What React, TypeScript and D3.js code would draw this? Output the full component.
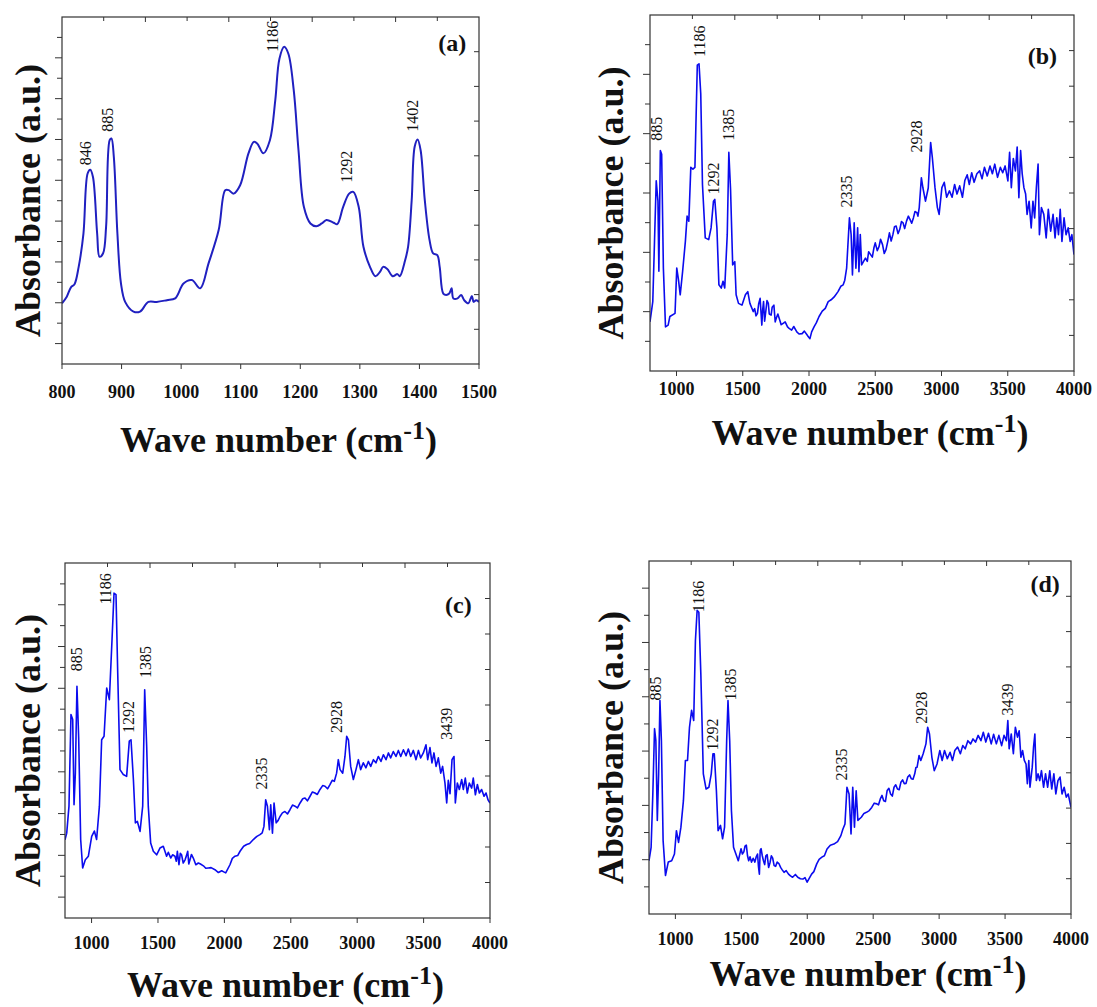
import React from "react";
import * as d3 from "d3";

type Pt = [number, number];
type Peak = { label: string; wn: number; y: number };

// ---------- Spectrum (a): 800-1500 cm-1 ----------
const specA: Pt[] = [
  [800, 17.5], [808, 19.4], [815, 22.1], [821, 23.0], [828, 28.0], [836, 37.6], [843, 54.9], [847.5, 56.0],
  [852, 53.9], [859, 37.6], [863, 30.9], [869, 31.9], [874, 39.5], [880, 64.5], [883, 65.0], [887, 59.7],
  [893, 37.6], [899, 23.2], [906, 17.9], [920, 15.1], [931, 15.1], [945, 17.9], [959, 17.9], [976, 18.4],
  [990, 18.9], [1004, 23.2], [1018, 24.2], [1032, 21.8], [1046, 29.0], [1063, 38.6], [1074, 50.1], [1080, 50.1],
  [1088, 49.1], [1099, 51.5], [1113, 60.7], [1122, 64.0], [1128, 63.5], [1138, 60.7], [1149, 64.5], [1158, 76.0],
  [1165, 88.0], [1173, 91.4], [1180, 89.4], [1189, 78.9], [1197, 61.6], [1206, 45.3], [1217, 40.5], [1227, 39.7],
  [1236, 40.5], [1244, 41.5], [1256, 40.7], [1262, 40.3], [1272, 45.3], [1282, 49.1], [1289, 49.6], [1298, 45.3],
  [1306, 33.8], [1317, 28.0], [1326, 25.3], [1334, 26.6], [1339, 28.0], [1346, 27.4], [1355, 25.3], [1363, 25.9],
  [1367, 25.3], [1376, 29.9], [1381, 33.8], [1387, 47.2], [1392, 62.6], [1397, 64.7], [1402, 61.6], [1409, 47.2],
  [1417, 35.7], [1423, 31.9], [1430, 31.4], [1434, 28.0], [1440, 20.3], [1445, 19.9], [1450, 20.3], [1454, 21.8],
  [1457, 18.9], [1464, 18.9], [1470, 19.9], [1475, 18.4], [1482, 17.5], [1488, 19.6], [1491, 17.9], [1495, 18.4],
  [1500, 17.9],
];
const peaksA: Peak[] = [
  { label: "846", wn: 839, y: 57.3 },
  { label: "885", wn: 875.5, y: 66.9 },
  { label: "1186", wn: 1152.5, y: 89.9 },
  { label: "1292", wn: 1278, y: 52.2 },
  { label: "1402", wn: 1387.5, y: 66.9 },
];

// ---------- Spectrum (b) ----------
const specB: Pt[] = [
  [800, 13.8], [821, 19.5], [834, 36.4], [847, 53.4], [860, 47.7], [867, 28.0], [878, 61.9], [888, 60.9],
  [901, 28.9], [917, 12.4], [937, 12.9], [950, 15.3], [989, 16.2], [1002, 28.9], [1015, 25.6], [1028, 21.4],
  [1046, 27.9], [1067, 36.4], [1080, 43.5], [1093, 42.1], [1108, 57.2], [1124, 56.7], [1139, 57.2], [1157, 85.9],
  [1170, 86.3], [1183, 77.9], [1196, 52.4], [1217, 37.4], [1243, 36.9], [1261, 40.2], [1279, 47.7], [1289, 48.2],
  [1305, 40.2], [1320, 24.2], [1338, 23.3], [1351, 25.2], [1364, 23.3], [1383, 38.3], [1395, 61.4], [1408, 51.0],
  [1424, 29.8], [1440, 30.7], [1450, 21.4], [1468, 19.0], [1494, 18.5], [1520, 21.4], [1538, 22.3], [1554, 19.0],
  [1579, 16.7], [1590, 17.5], [1600, 15.5], [1611, 16.2], [1620, 18.8], [1631, 20.4], [1644, 12.9], [1650, 17.0],
  [1657, 19.5], [1665, 14.0], [1675, 17.1], [1683, 19.8], [1693, 19.0], [1700, 16.0], [1714, 15.7], [1722, 17.9],
  [1735, 18.5], [1745, 13.8], [1753, 14.8], [1765, 16.0], [1779, 14.3], [1790, 13.0], [1805, 13.4], [1820, 13.8],
  [1838, 12.4], [1850, 12.0], [1869, 11.5], [1885, 12.5], [1908, 11.0], [1925, 10.4], [1948, 10.5], [1965, 11.2],
  [1986, 10.1], [1995, 9.6], [2007, 9.1], [2020, 11.0], [2038, 12.4], [2055, 13.5], [2076, 15.3], [2100, 16.8],
  [2123, 17.6], [2145, 19.5], [2167, 20.0], [2190, 20.8], [2219, 22.3], [2240, 23.8], [2258, 24.2], [2270, 25.5],
  [2284, 28.9], [2305, 43.0], [2318, 38.3], [2328, 27.0], [2341, 41.6], [2354, 28.9], [2367, 40.2], [2377, 27.9],
  [2387, 38.3], [2397, 29.8], [2426, 31.7], [2440, 30.8], [2450, 33.5], [2465, 32.7], [2478, 32.0], [2490, 34.6],
  [2500, 36.0], [2515, 33.8], [2529, 35.0], [2540, 37.0], [2555, 35.5], [2568, 33.0], [2581, 34.1], [2595, 36.5],
  [2607, 38.8], [2620, 36.5], [2633, 38.3], [2645, 40.5], [2658, 40.7], [2672, 38.6], [2685, 39.8], [2698, 42.0],
  [2710, 41.6], [2722, 40.0], [2736, 42.1], [2750, 43.5], [2762, 42.6], [2775, 41.5], [2788, 43.0], [2800, 44.8],
  [2814, 44.5], [2822, 43.5], [2832, 45.9], [2848, 54.3], [2860, 51.4], [2879, 47.7], [2900, 51.4], [2918, 64.2],
  [2931, 59.9], [2951, 51.5], [2969, 45.9], [2982, 44.0], [3003, 51.5], [3021, 53.0], [3039, 48.8], [3060, 50.6],
  [3080, 48.8], [3099, 52.4], [3117, 49.7], [3137, 52.0], [3158, 48.8], [3176, 53.5], [3194, 55.1], [3210, 52.4],
  [3228, 55.7], [3246, 53.0], [3267, 55.4], [3288, 56.2], [3306, 54.0], [3324, 57.2], [3345, 54.8], [3366, 57.6],
  [3384, 55.4], [3402, 58.1], [3423, 54.4], [3444, 57.2], [3462, 55.7], [3480, 57.6], [3501, 53.4], [3514, 61.4],
  [3527, 51.5], [3542, 59.7], [3558, 56.2], [3571, 62.9], [3584, 48.7], [3597, 61.9], [3609, 55.4], [3622, 51.5],
  [3635, 49.7], [3646, 44.0], [3661, 47.7], [3677, 40.2], [3690, 47.7], [3703, 43.0], [3716, 51.5], [3729, 58.1],
  [3739, 38.3], [3754, 45.9], [3772, 44.0], [3790, 37.4], [3806, 45.4], [3824, 39.3], [3842, 44.0], [3857, 37.4],
  [3870, 43.0], [3883, 38.3], [3896, 45.4], [3909, 36.4], [3925, 43.0], [3940, 38.3], [3956, 40.2], [3971, 36.4],
  [3984, 38.3], [4000, 32.7],
];
const peaksB: Peak[] = [
  { label: "885", wn: 847, y: 64.7 },
  { label: "1186", wn: 1170, y: 88.2 },
  { label: "1292", wn: 1279, y: 49.6 },
  { label: "1385", wn: 1395, y: 64.7 },
  { label: "2335", wn: 2279, y: 45.9 },
  { label: "2928", wn: 2814, y: 61.4 },
];

// ---------- Spectrum (c) ----------
const specC: Pt[] = [
  [800, 22.0], [813, 23.9], [830, 31.5], [845, 57.3], [858, 55.9], [868, 31.9], [878, 40.8], [890, 65.3],
  [903, 50.7], [918, 22.1], [933, 14.1], [953, 16.4], [976, 17.4], [1001, 23.0], [1021, 24.5], [1038, 22.1],
  [1059, 31.5], [1076, 50.2], [1094, 51.2], [1114, 64.8], [1134, 61.5], [1154, 78.4], [1169, 91.5], [1184, 91.1],
  [1197, 69.0], [1214, 41.8], [1239, 40.4], [1264, 39.9], [1284, 49.8], [1297, 50.2], [1315, 39.0], [1330, 26.8],
  [1345, 27.2], [1365, 24.4], [1385, 31.5], [1400, 64.3], [1415, 48.4], [1427, 31.5], [1445, 21.1], [1465, 18.8],
  [1490, 17.8], [1515, 19.7], [1540, 20.2], [1565, 17.4], [1578, 18.5], [1596, 16.9], [1610, 17.8], [1628, 17.4],
  [1638, 16.0], [1646, 18.8], [1658, 15.0], [1668, 18.2], [1678, 17.8], [1690, 15.5], [1704, 16.4], [1714, 17.5],
  [1724, 18.8], [1732, 15.2], [1741, 16.4], [1752, 17.9], [1766, 16.9], [1785, 15.0], [1804, 15.5], [1820, 15.2],
  [1842, 14.7], [1860, 14.0], [1879, 14.1], [1900, 14.2], [1929, 13.6], [1955, 12.8], [1980, 13.3], [1995, 13.0],
  [2010, 12.7], [2042, 15.0], [2060, 16.8], [2080, 17.4], [2100, 17.6], [2118, 18.8], [2145, 20.2], [2168, 20.7],
  [2190, 21.0], [2218, 22.1], [2245, 23.0], [2268, 23.5], [2285, 24.0], [2298, 25.8], [2311, 33.3], [2324, 31.5],
  [2339, 24.9], [2349, 31.9], [2362, 23.9], [2374, 32.4], [2390, 26.8], [2405, 27.5], [2419, 28.6], [2437, 29.6],
  [2456, 30.0], [2475, 29.3], [2494, 30.5], [2513, 31.8], [2532, 31.5], [2550, 31.0], [2570, 32.4], [2590, 33.6],
  [2607, 33.8], [2625, 33.0], [2645, 34.3], [2663, 35.5], [2682, 35.2], [2700, 34.8], [2720, 36.2], [2740, 37.3],
  [2758, 37.1], [2777, 36.4], [2795, 37.6], [2812, 38.8], [2828, 38.5], [2845, 40.8], [2858, 44.6], [2871, 41.8],
  [2891, 40.8], [2908, 45.5], [2921, 51.2], [2934, 50.2], [2951, 42.7], [2971, 39.0], [2991, 41.8], [3009, 44.6],
  [3026, 41.8], [3046, 43.7], [3066, 42.3], [3084, 44.1], [3102, 42.7], [3122, 44.6], [3141, 43.7], [3159, 45.5],
  [3179, 44.1], [3197, 46.0], [3217, 44.6], [3235, 46.5], [3252, 45.1], [3272, 46.9], [3292, 45.5], [3310, 47.2],
  [3328, 45.5], [3348, 47.4], [3368, 45.7], [3385, 47.6], [3403, 45.5], [3423, 47.2], [3443, 44.6], [3461, 47.2],
  [3478, 45.1], [3498, 46.5], [3518, 48.8], [3531, 44.6], [3548, 48.0], [3563, 43.7], [3578, 46.5], [3594, 42.7],
  [3611, 45.1], [3629, 40.8], [3643, 42.7], [3661, 38.0], [3674, 32.4], [3686, 38.8], [3699, 35.0], [3714, 44.6],
  [3729, 45.5], [3739, 32.4], [3754, 38.0], [3769, 36.2], [3787, 39.0], [3799, 36.2], [3814, 39.4], [3829, 35.2],
  [3844, 38.0], [3862, 36.6], [3874, 39.4], [3890, 34.7], [3905, 37.6], [3920, 35.2], [3937, 36.2], [3955, 34.3],
  [3970, 35.2], [3985, 33.3], [4000, 32.4],
];
const peaksC: Peak[] = [
  { label: "885", wn: 888, y: 69.5 },
  { label: "1186", wn: 1101, y: 88.3 },
  { label: "1292", wn: 1277, y: 52.1 },
  { label: "1385", wn: 1407, y: 67.6 },
  { label: "2335", wn: 2281, y: 36.2 },
  { label: "2928", wn: 2845, y: 52.1 },
  { label: "3439", wn: 3672, y: 50.2 },
];

// ---------- Spectrum (d) ----------
const specD: Pt[] = [
  [800, 15.1], [816, 18.9], [829, 34.0], [842, 52.5], [852, 49.1], [863, 26.5], [873, 39.7], [883, 60.5],
  [894, 49.1], [907, 20.8], [925, 10.9], [946, 14.7], [972, 15.1], [993, 17.0], [1008, 23.6], [1024, 20.3],
  [1042, 24.6], [1061, 32.1], [1076, 43.5], [1092, 43.5], [1107, 52.9], [1123, 57.7], [1139, 54.8], [1152, 77.5],
  [1165, 86.0], [1178, 85.5], [1193, 68.1], [1212, 39.7], [1233, 35.4], [1254, 35.9], [1272, 39.7], [1285, 45.4],
  [1295, 45.4], [1311, 35.0], [1324, 23.6], [1342, 25.1], [1358, 21.3], [1373, 24.6], [1389, 49.1], [1399, 60.5],
  [1412, 49.1], [1425, 29.3], [1441, 18.9], [1459, 17.0], [1477, 15.1], [1498, 18.5], [1508, 17.0], [1519, 17.6],
  [1528, 19.2], [1538, 19.5], [1547, 16.5], [1556, 15.1], [1566, 16.2], [1577, 14.7], [1590, 15.8], [1603, 14.7],
  [1613, 16.2], [1623, 17.0], [1630, 13.5], [1637, 11.3], [1643, 18.0], [1650, 18.5], [1659, 16.5], [1668, 15.1],
  [1677, 14.0], [1686, 16.5], [1696, 16.8], [1707, 13.2], [1718, 14.6], [1728, 16.5], [1738, 15.8], [1749, 13.7],
  [1760, 13.5], [1772, 14.7], [1785, 14.3], [1798, 13.2], [1810, 12.5], [1824, 11.8], [1840, 12.3], [1858, 11.3],
  [1873, 10.8], [1889, 10.4], [1910, 11.2], [1928, 10.4], [1948, 10.0], [1967, 9.9], [1983, 10.3], [1999, 9.0],
  [2033, 11.3], [2050, 12.0], [2072, 14.2], [2090, 15.5], [2111, 16.1], [2130, 16.5], [2150, 18.4], [2175, 19.5],
  [2202, 19.8], [2230, 20.5], [2255, 22.2], [2270, 24.0], [2286, 25.5], [2301, 35.9], [2317, 34.0], [2332, 22.7],
  [2345, 35.9], [2358, 24.6], [2371, 34.9], [2384, 26.5], [2410, 27.4], [2430, 28.5], [2449, 28.8], [2470, 29.3],
  [2489, 30.2], [2508, 31.4], [2528, 31.2], [2540, 30.9], [2554, 32.6], [2567, 33.6], [2580, 32.1], [2593, 31.9],
  [2606, 35.0], [2619, 35.6], [2632, 34.0], [2645, 33.4], [2658, 35.9], [2671, 36.6], [2684, 35.4], [2697, 35.2],
  [2710, 37.3], [2723, 38.0], [2736, 36.9], [2749, 37.0], [2762, 38.8], [2776, 39.4], [2789, 38.3], [2802, 38.2],
  [2815, 39.7], [2824, 41.5], [2833, 41.6], [2848, 44.9], [2861, 43.5], [2879, 45.4], [2900, 48.2], [2913, 52.9],
  [2927, 51.0], [2945, 44.4], [2963, 40.6], [2984, 42.5], [3005, 46.3], [3023, 43.5], [3041, 46.3], [3062, 44.0],
  [3083, 45.8], [3101, 43.5], [3119, 46.3], [3140, 47.3], [3161, 45.4], [3179, 47.7], [3198, 46.8], [3218, 49.1],
  [3239, 48.2], [3257, 49.6], [3276, 48.7], [3296, 50.6], [3317, 49.1], [3335, 51.5], [3354, 48.7], [3374, 51.2],
  [3395, 48.2], [3413, 50.9], [3434, 48.2], [3453, 50.6], [3474, 47.7], [3492, 50.6], [3510, 49.1], [3521, 54.8],
  [3531, 46.8], [3547, 51.0], [3563, 45.4], [3578, 52.9], [3594, 50.1], [3607, 51.9], [3620, 44.4], [3633, 46.3],
  [3646, 43.5], [3659, 42.5], [3669, 36.9], [3680, 43.5], [3689, 35.9], [3706, 41.6], [3716, 47.3], [3726, 51.0],
  [3737, 37.8], [3750, 39.7], [3763, 37.8], [3776, 40.6], [3792, 35.9], [3807, 39.7], [3823, 35.9], [3839, 40.6],
  [3854, 35.4], [3870, 39.7], [3885, 34.0], [3901, 37.8], [3917, 38.8], [3932, 34.0], [3948, 35.9], [3964, 33.1],
  [3979, 34.0], [4000, 30.2],
];
const peaksD: Peak[] = [
  { label: "885", wn: 852, y: 60.5 },
  { label: "1186", wn: 1173, y: 85.5 },
  { label: "1292", wn: 1277, y: 46.3 },
  { label: "1385", wn: 1420, y: 60.5 },
  { label: "2335", wn: 2259, y: 37.8 },
  { label: "2928", wn: 2867, y: 53.9 },
  { label: "3439", wn: 3518, y: 56.2 },
];

const ticksNarrow = [800, 900, 1000, 1100, 1200, 1300, 1400, 1500];
const ticksWide = [1000, 1500, 2000, 2500, 3000, 3500, 4000];

const SERIF = "'Liberation Serif', 'Times New Roman', serif";

type PanelCfg = {
  key: string;
  letter: string;
  data: Pt[];
  peaks: Peak[];
  domain: [number, number];
  xTicks: number[];
  box: { l: number; r: number; t: number; b: number };
  leftDiv: number;
  leftMajorOdd: boolean;
  letterPos: [number, number];
  color: string;
  lw: number;
  smooth: boolean;
  tickLabelY: number;
  xlabelY: number;
  ylabelX: number;
};

const panels: PanelCfg[] = [
  {
    key: "a", letter: "(a)", data: specA, peaks: peaksA, domain: [800, 1500], xTicks: ticksNarrow,
    box: { l: 62, r: 479, t: 17, b: 364 }, leftDiv: 17, leftMajorOdd: false, letterPos: [1455, 92.5],
    color: "#2020c0", lw: 2, smooth: true, tickLabelY: 392, xlabelY: 452, ylabelX: 28,
  },
  {
    key: "b", letter: "(b)", data: specB, peaks: peaksB, domain: [800, 4000], xTicks: ticksWide,
    box: { l: 650, r: 1074, t: 15, b: 371 }, leftDiv: 12, leftMajorOdd: false, letterPos: [3762, 88.5],
    color: "#0b0bee", lw: 1.6, smooth: false, tickLabelY: 389, xlabelY: 445, ylabelX: 611,
  },
  {
    key: "c", letter: "(c)", data: specC, peaks: peaksC, domain: [800, 4000], xTicks: ticksWide,
    box: { l: 65, r: 490, t: 563, b: 918 }, leftDiv: 17, leftMajorOdd: false, letterPos: [3762, 88.3],
    color: "#0b0bee", lw: 1.6, smooth: false, tickLabelY: 943, xlabelY: 997, ylabelX: 28,
  },
  {
    key: "d", letter: "(d)", data: specD, peaks: peaksD, domain: [800, 4000], xTicks: ticksWide,
    box: { l: 649, r: 1071, t: 561, b: 914 }, leftDiv: 13, leftMajorOdd: true, letterPos: [3804, 93.6],
    color: "#0b0bee", lw: 1.6, smooth: false, tickLabelY: 939, xlabelY: 986, ylabelX: 611,
  },
];

function Panel({ p }: { p: PanelCfg }) {
  const { l, r, t, b } = p.box;
  const x = d3.scaleLinear().domain(p.domain).range([l, r]);
  const y = d3.scaleLinear().domain([0, 100]).range([b, t]);
  const line = d3
    .line<Pt>()
    .x((d) => x(d[0]))
    .y((d) => y(d[1]))
    .curve(p.smooth ? d3.curveCatmullRom.alpha(0.5) : d3.curveLinear);
  const sorted = [...p.data].sort((a, c) => a[0] - c[0]);
  const h = b - t;
  const w = r - l;
  const axisColor = "#333";

  const leftTicks = d3.range(1, p.leftDiv).map((k) => ({
    y: t + (h * k) / p.leftDiv,
    major: p.leftMajorOdd ? k % 2 === 1 : k % 2 === 0,
  }));
  const rightTicks = d3.range(1, 10).map((k) => t + (h * k) / 10);
  const topTicks = d3.range(1, 10).map((k) => ({ x: l + (w * k) / 10, major: k % 2 === 0 }));

  return (
    <g>
      <defs>
        <clipPath id={`clip-${p.key}`}>
          <rect x={l} y={t} width={w} height={h} />
        </clipPath>
      </defs>
      <path
        d={line(sorted) || ""}
        fill="none"
        stroke={p.color}
        strokeWidth={p.lw}
        strokeLinejoin="round"
        clipPath={`url(#clip-${p.key})`}
      />
      <rect x={l} y={t} width={w} height={h} fill="none" stroke={axisColor} strokeWidth={1.2} />
      {leftTicks.map((tk, i) => (
        <line key={`l${i}`} x1={l} x2={l - (tk.major ? 7 : 5)} y1={tk.y} y2={tk.y} stroke={axisColor} strokeWidth={1} />
      ))}
      {rightTicks.map((ty, i) => (
        <line key={`r${i}`} x1={r} x2={r - 5} y1={ty} y2={ty} stroke={axisColor} strokeWidth={1} />
      ))}
      {topTicks.map((tk, i) => (
        <line key={`t${i}`} x1={tk.x} x2={tk.x} y1={t} y2={t + (tk.major ? 5 : 4)} stroke={axisColor} strokeWidth={1} />
      ))}
      {p.xTicks.map((v) => (
        <g key={`b${v}`}>
          <line x1={x(v)} x2={x(v)} y1={b} y2={b + 5} stroke={axisColor} strokeWidth={1} />
          <text
            x={x(v)}
            y={p.tickLabelY}
            textAnchor="middle"
            dominantBaseline="central"
            fontFamily={SERIF}
            fontWeight="bold"
            fontSize={18}
            fill="#111"
          >
            {v}
          </text>
        </g>
      ))}
      {p.peaks.map((pk) => (
        <text
          key={`p${pk.label}`}
          transform={`translate(${x(pk.wn)},${y(pk.y)}) rotate(-90)`}
          dy="0.35em"
          textAnchor="start"
          fontFamily={SERIF}
          fontSize={16}
          fill="#111"
        >
          {pk.label}
        </text>
      ))}
      <text
        x={x(p.letterPos[0])}
        y={y(p.letterPos[1])}
        textAnchor="middle"
        dominantBaseline="central"
        fontFamily={SERIF}
        fontWeight="bold"
        fontSize={24}
        fill="#111"
      >
        {p.letter}
      </text>
      <text
        transform={`translate(${p.ylabelX},${(t + b) / 2 + 10}) rotate(-90)`}
        textAnchor="middle"
        dominantBaseline="central"
        fontFamily={SERIF}
        fontWeight="bold"
        fontSize={36}
        fill="#111"
      >
        Absorbance (a.u.)
      </text>
      <text
        x={(l + r) / 2 + 8}
        y={p.xlabelY}
        textAnchor="middle"
        fontFamily={SERIF}
        fontWeight="bold"
        fontSize={36}
        fill="#111"
      >
        Wave number (cm
        <tspan dy={-13} fontSize={26}>-1</tspan>
        <tspan dy={13}>)</tspan>
      </text>
    </g>
  );
}

export default function App() {
  return (
    <svg
      width={1097}
      height={1007}
      style={{ position: "absolute", left: 0, top: 0, background: "#fff" }}
    >
      <rect x={0} y={0} width={1097} height={1007} fill="#fff" />
      {panels.map((p) => (
        <Panel key={p.key} p={p} />
      ))}
    </svg>
  );
}
